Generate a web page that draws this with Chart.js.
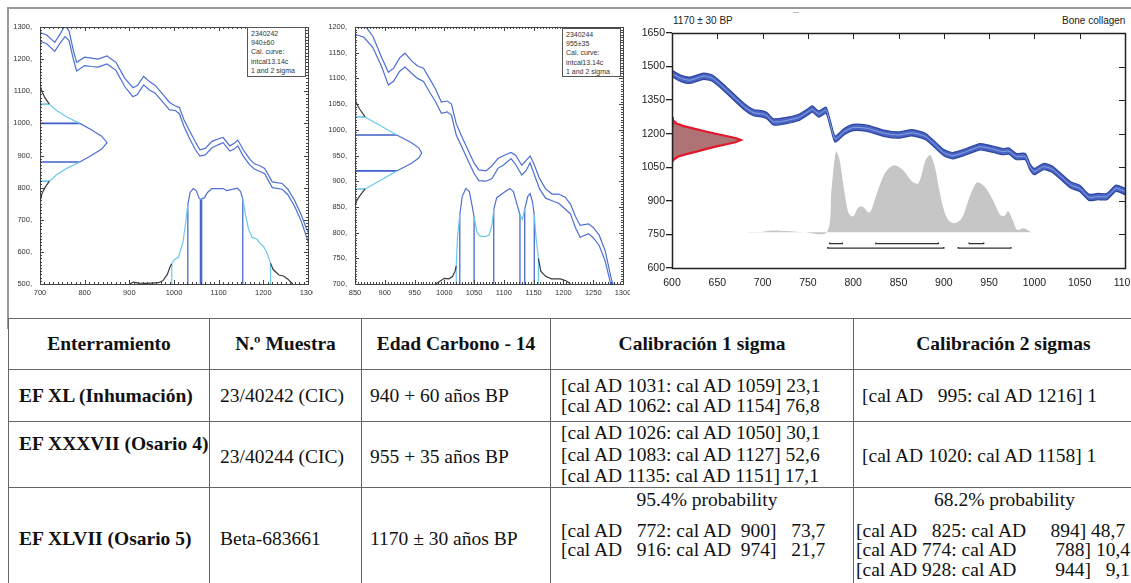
<!DOCTYPE html>
<html>
<head>
<meta charset="utf-8">
<script src="https://cdn.jsdelivr.net/npm/chart.js@4.4.0/dist/chart.umd.min.js"></script>
<style>
  body { margin: 0; width: 1131px; height: 583px; overflow: hidden; background: #fff; position: relative; }
  .frame { position: absolute; left: 7px; top: 7px; width: 1140px; height: 320px; border-top: 2px solid #999; border-left: 2px solid #999; }
  canvas { position: absolute; }
  .lbox { position: absolute; background: #fff; border: 1px solid #555; font: 7px/9.2px "Liberation Sans", Arial, sans-serif; color: #333; padding: 1px 3px; box-sizing: border-box; }
  .ttl { position: absolute; font: 10px "Liberation Sans", Arial, sans-serif; color: #222; }
  #tbl { position: absolute; left: 8px; top: 318px; width: 1145px; border-collapse: collapse; table-layout: fixed; font: 19.5px "Liberation Serif", "Times New Roman", serif; color: #111; }
  #tbl td, #tbl th { border: 1px solid #666; padding: 0 0 0 10px; vertical-align: middle; text-align: left; white-space: nowrap; overflow: visible; }
  #tbl th { text-align: center; padding: 0; font-weight: bold; font-size: 19.5px; }
  #tbl td.b { font-weight: bold; font-size: 19.5px; }
  #tbl td.l2 { line-height: 20px; }
  #tbl td.l3 { line-height: 21.5px; }
  #tbl td.p { vertical-align: top; white-space: pre; line-height: 19.5px; padding-top: 2px; }
  .ctr { text-align: center; line-height: 20px; margin-bottom: 11px; }
</style>
</head>
<body>
<div class="frame"></div>
<div style="position:absolute;left:793px;top:12px;width:6px;height:1px;background:#bbb"></div>

<canvas id="cal1" width="305" height="280" style="left:8px;top:20px"></canvas>
<div class="lbox" style="left:247px;top:27px;width:59px;height:50px">2340242<br>940±60<br>Cal. curve:<br>intcal13.14c<br>1 and 2 sigma</div>

<canvas id="cal2" width="305" height="280" style="left:325px;top:20px"></canvas>
<div class="lbox" style="left:562px;top:28px;width:59px;height:49px">2340244<br>955±35<br>Cal. curve:<br>intcal13.14c<br>1 and 2 sigma</div>

<canvas id="cal3" width="503" height="264" style="left:632px;top:26px"></canvas>
<div class="ttl" style="left:673px;top:15px">1170 ± 30 BP</div>
<div class="ttl" style="left:1062px;top:15px">Bone collagen</div>

<table id="tbl">
  <colgroup><col style="width:201px"><col style="width:152px"><col style="width:189px"><col style="width:303px"><col style="width:300px"></colgroup>
  <tr style="height:51px"><th>Enterramiento</th><th>N.º Muestra</th><th>Edad Carbono - 14</th><th>Calibración 1 sigma</th><th>Calibración 2 sigmas</th></tr>
  <tr style="height:52px">
    <td class="b">EF XL (Inhumación)</td><td>23/40242 (CIC)</td><td style="padding-left:8px">940 + 60 años BP</td>
    <td class="l2">[cal AD 1031: cal AD 1059] 23,1<br>[cal AD 1062: cal AD 1154] 76,8</td>
    <td style="padding-left:8px;white-space:pre">[cal AD   995: cal AD 1216] 1</td>
  </tr>
  <tr style="height:65px">
    <td class="b" style="vertical-align:top;padding-top:11px">EF XXXVII (Osario 4)</td><td style="padding-top:6px">23/40244 (CIC)</td><td style="padding-left:8px;padding-top:6px">955 + 35 años BP</td>
    <td class="l3">[cal AD 1026: cal AD 1050] 30,1<br>[cal AD 1083: cal AD 1127] 52,6<br>[cal AD 1135: cal AD 1151] 17,1</td>
    <td style="padding-left:8px;padding-top:4px">[cal AD 1020: cal AD 1158] 1</td>
  </tr>
  <tr style="height:104px">
    <td class="b">EF XLVII (Osario 5)</td><td>Beta-683661</td><td style="padding-left:8px">1170 ± 30 años BP</td>
    <td class="p"><div class="ctr">95.4% probability</div>[cal AD   772: cal AD  900]   73,7
[cal AD   916: cal AD  974]   21,7</td>
    <td class="p" style="padding-left:2px"><div class="ctr">68.2% probability</div>[cal AD   825: cal AD     894] 48,7
[cal AD 774: cal AD        788] 10,4
[cal AD 928: cal AD        944]   9,1</td>
  </tr>
</table>

<script>
// ---- sample 23/40242 : 940 ± 60 BP ----
const curve1Years = [700, 715, 733, 745, 756, 765, 775, 782, 800, 815, 830, 850, 870, 890, 908, 918, 932, 945, 958, 975, 990, 1003, 1012, 1022, 1035, 1048, 1058, 1070, 1085, 1100, 1110, 1125, 1135, 1143, 1155, 1170, 1180, 1192, 1203, 1220, 1242, 1255, 1270, 1285, 1300];
const curve1Upper = [1283, 1275, 1252, 1278, 1305, 1288, 1225, 1190, 1206, 1203, 1200, 1210, 1190, 1140, 1111, 1118, 1146, 1130, 1118, 1090, 1065, 1054, 1050, 1012, 976, 942, 918, 922, 944, 952, 956, 930, 938, 948, 918, 888, 874, 868, 860, 818, 813, 795, 760, 715, 660];
const curve1Lower = [1256, 1248, 1224, 1250, 1270, 1258, 1198, 1163, 1180, 1177, 1175, 1185, 1165, 1114, 1083, 1090, 1120, 1104, 1094, 1066, 1042, 1040, 1030, 992, 952, 918, 898, 902, 924, 934, 940, 914, 920, 930, 898, 870, 858, 850, 843, 800, 795, 778, 742, 695, 633];
const gauss1BP = [1120, 1100, 1080, 1060, 1040, 1020, 1000, 980, 960, 940, 920, 900, 880, 860, 840, 820, 800, 780, 755];
const gauss1X = [700, 704, 711, 721, 737, 760, 789, 815, 838, 850, 838, 815, 789, 760, 737, 721, 711, 704, 700];
const dist1Years = [900, 910, 920, 935, 950, 965, 975, 985, 992, 995, 1000, 1010, 1020, 1026, 1031, 1036, 1043, 1050, 1056, 1059, 1062, 1068, 1075, 1085, 1100, 1110, 1118, 1125, 1135, 1142, 1149, 1154, 1160, 1167, 1175, 1185, 1195, 1200, 1207, 1216, 1222, 1235, 1245, 1255, 1266];
const dist1BP = [500, 506, 503, 502, 503, 504, 510, 530, 556, 563, 575, 583, 630, 690, 748, 785, 797, 790, 768, 764, 766, 768, 785, 797, 797, 797, 791, 793, 796, 798, 788, 765, 715, 670, 645, 640, 622, 618, 600, 565, 545, 528, 525, 515, 500];
const cal1Sigma1 = [[1031, 1059], [1062, 1154]];
const cal1Sigma2 = [[995, 1216]];
const bp1Sigma1 = [880, 1000];
const bp1Sigma2 = [820, 1060];

// ---- sample 23/40244 : 955 ± 35 BP ----
const curve2Years = [850, 865, 880, 895, 906, 915, 925, 934, 945, 955, 965, 975, 985, 995, 1005, 1012, 1020, 1030, 1040, 1050, 1058, 1070, 1080, 1090, 1100, 1112, 1120, 1130, 1137, 1144, 1150, 1160, 1170, 1181, 1192, 1203, 1212, 1220, 1228, 1242, 1250, 1260, 1270, 1280, 1290];
const curve2Upper = [1215, 1205, 1182, 1140, 1112, 1120, 1140, 1149, 1134, 1124, 1120, 1100, 1080, 1054, 1056, 1050, 1012, 985, 960, 935, 922, 920, 930, 944, 950, 956, 950, 931, 940, 949, 935, 905, 885, 875, 875, 869, 855, 832, 814, 817, 810, 795, 765, 712, 670];
const curve2Lower = [1186, 1180, 1160, 1122, 1087, 1095, 1114, 1122, 1110, 1100, 1094, 1074, 1055, 1032, 1035, 1028, 990, 965, 940, 915, 901, 900, 905, 925, 932, 944, 932, 912, 920, 936, 916, 885, 867, 862, 857, 846, 836, 810, 791, 798, 790, 775, 745, 697, 650];
const gauss2BP = [1062, 1050, 1040, 1025, 1010, 990, 975, 965, 955, 945, 935, 920, 900, 885, 870, 860, 850];
const gauss2X = [850, 853, 858, 867, 890, 920, 945, 957, 962, 957, 945, 920, 890, 867, 857, 852, 850];
const dist2Years = [985, 992, 1000, 1008, 1014, 1018, 1020, 1022, 1026, 1030, 1036, 1042, 1047, 1050, 1055, 1060, 1068, 1075, 1080, 1083, 1088, 1100, 1110, 1116, 1122, 1127, 1131, 1135, 1140, 1144, 1148, 1151, 1154, 1158, 1162, 1170, 1180, 1195, 1205, 1212];
const dist2BP = [700, 705, 711, 710, 715, 725, 735, 790, 835, 870, 886, 880, 850, 830, 800, 793, 792, 795, 815, 845, 868, 878, 886, 880, 855, 835, 826, 845, 870, 876, 860, 835, 790, 750, 725, 715, 710, 710, 706, 700];
const cal2Sigma1 = [[1026, 1050], [1083, 1127], [1135, 1151]];
const cal2Sigma2 = [[1020, 1158]];
const bp2Sigma1 = [920, 990];
const bp2Sigma2 = [885, 1025];

// ---- sample Beta-683661 : 1170 ± 30 BP ----
const curve3Years = [600, 610, 620, 635, 645, 660, 680, 690, 700, 705, 712, 725, 740, 750, 755, 762, 770, 775, 780, 790, 800, 815, 835, 850, 865, 880, 900, 910, 925, 940, 955, 965, 972, 980, 990, 995, 1000, 1010, 1020, 1040, 1050, 1060, 1070, 1080, 1090, 1100];
const curve3Mid = [1469, 1447, 1439, 1457, 1447, 1395, 1320, 1294, 1288, 1280, 1253, 1258, 1273, 1298, 1310, 1288, 1305, 1240, 1176, 1209, 1228, 1224, 1201, 1194, 1204, 1187, 1115, 1102, 1120, 1142, 1130, 1120, 1122, 1098, 1098, 1053, 1031, 1053, 1041, 971, 956, 916, 919, 919, 956, 942];
const curve3Upper = [1483, 1461, 1453, 1471, 1461, 1409, 1334, 1308, 1302, 1294, 1267, 1272, 1287, 1312, 1324, 1302, 1319, 1254, 1190, 1223, 1242, 1238, 1215, 1208, 1218, 1201, 1129, 1116, 1134, 1156, 1144, 1134, 1136, 1112, 1112, 1067, 1045, 1067, 1055, 985, 970, 930, 933, 933, 970, 956];
const curve3Lower = [1455, 1433, 1425, 1443, 1433, 1381, 1306, 1280, 1274, 1266, 1239, 1244, 1259, 1284, 1296, 1274, 1291, 1226, 1162, 1195, 1214, 1210, 1187, 1180, 1190, 1173, 1101, 1088, 1106, 1128, 1116, 1106, 1108, 1084, 1084, 1039, 1017, 1039, 1027, 957, 942, 902, 905, 905, 942, 928];
const gauss3BP = [1275, 1260, 1246, 1235, 1224, 1212, 1201, 1190, 1180, 1172, 1162, 1152, 1142, 1131, 1120, 1110, 1098, 1085, 1075, 1275];
const gauss3X = [600, 601, 605, 612, 623, 635, 647, 660, 671, 676, 670, 659, 648, 637, 627, 617, 607, 602, 600, 600];
const dist3Years = [682, 700, 710, 720, 735, 745, 771, 776, 781, 785, 790, 795, 800, 805, 810, 818, 825, 835, 845, 855, 865, 872, 880, 885, 890, 895, 900, 905, 912, 920, 930, 937, 945, 955, 962, 967, 971, 976, 981, 988, 997];
const dist3BP = [760, 762, 767, 766, 763, 760, 760, 950, 1120, 1083, 949, 845, 830, 867, 875, 848, 920, 1023, 1059, 1038, 986, 979, 1083, 1105, 1053, 949, 860, 815, 800, 823, 934, 983, 964, 897, 838, 833, 855, 815, 771, 778, 759];
const cal3Ranges68 = [[774, 788], [825, 894], [928, 944]];
const cal3Ranges95 = [[772, 900], [916, 974]];

const BLUE = '#4d6fd4', BLUE_D = '#3d5ec8', CYAN = '#6ac8ec', DARK = '#3a3a3a';
const SMALL = { size: 7.5, family: '"Liberation Sans", Arial, sans-serif' };
const MID = { size: 10.5, family: '"Liberation Sans", Arial, sans-serif' };

function pts(xs, ys) { return xs.map((x, i) => ({ x: x, y: ys[i] })); }
function interp(xs, ys, v) {
  for (let i = 1; i < xs.length; i++) {
    if ((xs[i - 1] - v) * (xs[i] - v) <= 0) {
      const d = xs[i] - xs[i - 1];
      return d === 0 ? ys[i] : ys[i - 1] + (v - xs[i - 1]) / d * (ys[i] - ys[i - 1]);
    }
  }
  return ys[0];
}
function inRanges(v, rs) { return rs.some(r => v >= Math.min(r[0], r[1]) && v <= Math.max(r[0], r[1])); }
function sigmaColor(v, s1, s2) { return inRanges(v, s1) ? BLUE : inRanges(v, s2) ? CYAN : DARK; }
function lineDs(data, color, width) {
  return { data: data, showLine: true, pointRadius: 0, borderColor: color, borderWidth: width, fill: false };
}

// box round the plot area, with tick marks pointing inwards
function frameTicks(cfg) {
  return {
    id: 'frameTicks',
    afterDraw(chart) {
      const ctx = chart.ctx, a = chart.chartArea;
      const sides = cfg.sides;
      ctx.save();
      ctx.strokeStyle = cfg.color;
      ctx.lineWidth = cfg.width;
      ctx.strokeRect(Math.round(a.left) + 0.5, Math.round(a.top) + 0.5, Math.round(a.right - a.left), Math.round(a.bottom - a.top));
      ctx.lineWidth = 1;
      ctx.beginPath();
      const run = (scale, step, len) => {
        for (let v = scale.min; v <= scale.max + 1e-6; v += step) {
          const p = Math.round(scale.getPixelForValue(v)) + 0.5;
          if (scale.isHorizontal()) {
            if (sides.indexOf('top') >= 0) { ctx.moveTo(p, a.top); ctx.lineTo(p, a.top + len); }
            if (sides.indexOf('bottom') >= 0) { ctx.moveTo(p, a.bottom); ctx.lineTo(p, a.bottom - len); }
          } else {
            if (sides.indexOf('left') >= 0) { ctx.moveTo(a.left, p); ctx.lineTo(a.left + len, p); }
            if (sides.indexOf('right') >= 0) { ctx.moveTo(a.right, p); ctx.lineTo(a.right - len, p); }
          }
        }
      };
      [chart.scales.x, chart.scales.y].forEach(s => {
        const st = s.options.ticks.stepSize;
        run(s, st, cfg.len);
        if (cfg.minor) run(s, st / cfg.minor, cfg.minorLen);
      });
      ctx.stroke();
      ctx.restore();
    }
  };
}

function calChart(id, c) {
  const ds = [];
  ds.push(lineDs(pts(c.years, c.upper), BLUE, 1.2));
  ds.push(lineDs(pts(c.years, c.lower), BLUE, 1.2));
  ds.push(Object.assign(lineDs(pts(c.gX, c.gBP), BLUE, 1.2), {
    segment: { borderColor: s => sigmaColor((s.p0.parsed.y + s.p1.parsed.y) / 2, [c.bp1], [c.bp2]) }
  }));
  ds.push(Object.assign(lineDs(pts(c.dYears, c.dBP), BLUE, 1.2), {
    segment: { borderColor: s => sigmaColor((s.p0.parsed.x + s.p1.parsed.x) / 2, c.s1, c.s2) }
  }));
  c.bp1.forEach(v => ds.push(lineDs([{ x: c.x[0], y: v }, { x: interp(c.gBP, c.gX, v), y: v }], BLUE_D, 1.6)));
  c.bp2.forEach(v => ds.push(lineDs([{ x: c.x[0], y: v }, { x: interp(c.gBP, c.gX, v), y: v }], CYAN, 1.6)));
  c.s1.flat().forEach(v => ds.push(lineDs([{ x: v, y: c.y[0] }, { x: v, y: interp(c.dYears, c.dBP, v) }], BLUE_D, 1.2)));
  c.s2.flat().forEach(v => ds.push(lineDs([{ x: v, y: c.y[0] }, { x: v, y: interp(c.dYears, c.dBP, v) }], CYAN, 1.2)));

  new Chart(document.getElementById(id), {
    type: 'scatter',
    data: { datasets: ds },
    plugins: [frameTicks({ color: '#444', width: 1, sides: ['top', 'right', 'bottom', 'left'], len: 4, minor: 10, minorLen: 2 })],
    options: {
      responsive: false,
      animation: false,
      layout: { padding: { top: 7, right: c.padRight, left: 0, bottom: 0 } },
      plugins: { legend: { display: false }, tooltip: { enabled: false } },
      scales: {
        x: {
          type: 'linear', min: c.x[0], max: c.x[1],
          ticks: { stepSize: c.x[2], font: SMALL, color: '#333', padding: 4, maxRotation: 0, autoSkip: false, callback: v => String(v) },
          grid: { display: false, drawTicks: false }, border: { display: false },
          afterFit: s => { s.height = 16; s.paddingLeft = 0; s.paddingRight = 0; }
        },
        y: {
          type: 'linear', min: c.y[0], max: c.y[1],
          ticks: { stepSize: c.y[2], font: SMALL, color: '#333', padding: 8, autoSkip: false, callback: v => v + ',' },
          grid: { display: false, drawTicks: false }, border: { display: false },
          afterFit: s => { s.width = c.yWidth; s.paddingTop = 0; s.paddingBottom = 0; }
        }
      }
    }
  });
}

calChart('cal1', {
  years: curve1Years, upper: curve1Upper, lower: curve1Lower,
  gX: gauss1X, gBP: gauss1BP, dYears: dist1Years, dBP: dist1BP,
  s1: cal1Sigma1, s2: cal1Sigma2, bp1: bp1Sigma1, bp2: bp1Sigma2,
  x: [700, 1300, 100], y: [500, 1300, 100], yWidth: 32, padRight: 5
});

calChart('cal2', {
  years: curve2Years, upper: curve2Upper, lower: curve2Lower,
  gX: gauss2X, gBP: gauss2BP, dYears: dist2Years, dBP: dist2BP,
  s1: cal2Sigma1, s2: cal2Sigma2, bp1: bp2Sigma1, bp2: bp2Sigma2,
  x: [850, 1300, 50], y: [700, 1200, 50], yWidth: 30, padRight: 7
});

// third sample, OxCal style plot
const ds3 = [
  { data: pts(curve3Years, curve3Mid), showLine: true, pointRadius: 0, borderColor: '#8aa0e4', borderWidth: 1, fill: false, tension: 0.2 },
  { data: pts(curve3Years, curve3Lower), showLine: true, pointRadius: 0, borderColor: '#2c46a2', borderWidth: 1.2, fill: false, tension: 0.2 },
  { data: pts(curve3Years, curve3Upper), showLine: true, pointRadius: 0, borderColor: '#2c46a2', borderWidth: 1.2, fill: '-1', backgroundColor: '#4a66c2', tension: 0.2 },
  { data: pts(gauss3X, gauss3BP), showLine: true, pointRadius: 0, borderColor: '#e3182c', borderWidth: 2.2, fill: 'shape', backgroundColor: 'rgba(160, 90, 92, 0.85)' },
  { data: pts(dist3Years, dist3BP), showLine: true, pointRadius: 0, borderWidth: 0, borderColor: 'rgba(0,0,0,0)', fill: { value: 760 }, backgroundColor: '#c6c6c6', tension: 0.3 }
];
cal3Ranges68.forEach(r => ds3.push(lineDs([{ x: r[0], y: 714 }, { x: r[0], y: 709 }, { x: r[1], y: 709 }, { x: r[1], y: 714 }], '#333', 1.4)));
cal3Ranges95.forEach(r => ds3.push(lineDs([{ x: r[0], y: 694 }, { x: r[0], y: 689 }, { x: r[1], y: 689 }, { x: r[1], y: 694 }], '#333', 1.4)));

new Chart(document.getElementById('cal3'), {
  type: 'scatter',
  data: { datasets: ds3 },
  plugins: [frameTicks({ color: '#222', width: 1.5, sides: ['top', 'right'], len: 6, minor: 0 })],
  options: {
    responsive: false,
    animation: false,
    layout: { padding: { top: 7, right: 10, left: 0, bottom: 0 } },
    plugins: { legend: { display: false }, tooltip: { enabled: false } },
    scales: {
      x: {
        type: 'linear', min: 600, max: 1100,
        ticks: { stepSize: 50, font: MID, color: '#222', padding: 9, maxRotation: 0, autoSkip: false, callback: v => String(v) },
        grid: { display: false, drawTicks: false }, border: { display: false },
        afterFit: s => { s.height = 22; s.paddingLeft = 0; s.paddingRight = 0; }
      },
      y: {
        type: 'linear', min: 600, max: 1650,
        ticks: { stepSize: 150, font: MID, color: '#222', padding: 1, autoSkip: false, callback: v => String(v) },
        grid: { display: true, drawOnChartArea: false, drawTicks: true, tickLength: 6, color: '#222', lineWidth: 1.3 },
        border: { display: false },
        afterFit: s => { s.width = 40; s.paddingTop = 0; s.paddingBottom = 0; }
      }
    }
  }
});
</script>
</body>
</html>
